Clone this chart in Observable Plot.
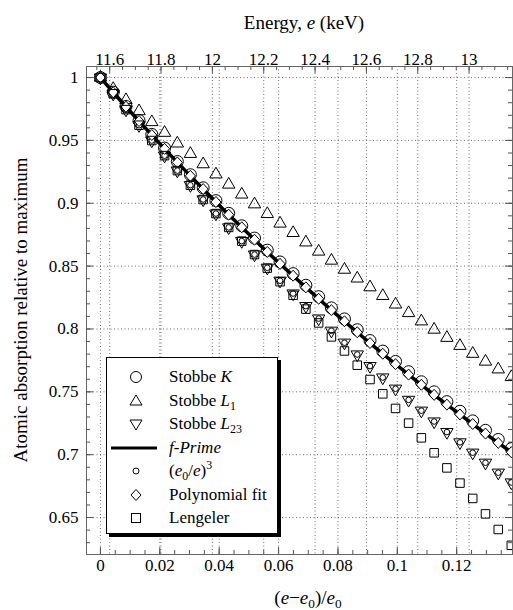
<!DOCTYPE html>
<html><head><meta charset="utf-8">
<script src="https://cdn.jsdelivr.net/npm/d3@7"></script>
<script src="https://cdn.jsdelivr.net/npm/@observablehq/plot@0.6"></script>
<style>
body{margin:0;background:#fff;}
#wrap{position:relative;width:513px;height:610px;font-family:"Liberation Serif","Times New Roman",serif;color:#000;overflow:hidden;background:#fff;}
#wrap svg.plot{position:absolute;left:0;top:0;}
.t{position:absolute;white-space:nowrap;line-height:1;}
#legend{position:absolute;left:106px;top:357px;width:172px;height:177px;border:1px solid #000;box-shadow:3px 3px 0 #000;background:#fff;box-sizing:border-box;}
.row{position:absolute;left:0;height:24px;display:flex;align-items:center;font-size:17px;}
.row svg{width:56px;height:24px;flex:none;}
.row span{margin-left:6px;}
sub,sup{font-size:70%;line-height:0;}
</style></head><body><div id="wrap"></div>
<script>
// ---- data ----
const e0 = 11.564; // edge energy (keV)
const xs = [0, 0.0043, 0.0086, 0.0130, 0.0173, 0.0216, 0.0259, 0.0303, 0.0346, 0.0389, 0.0432, 0.0476, 0.0519, 0.0562, 0.0605, 0.0649, 0.0692, 0.0735, 0.0778, 0.0822, 0.0865, 0.0908, 0.0951, 0.0994, 0.1038, 0.1081, 0.1124, 0.1167, 0.1211, 0.1254, 0.1297, 0.1340, 0.1384];
const stobbeK = [1, 0.9884, 0.9770, 0.9658, 0.9548, 0.9439, 0.9332, 0.9227, 0.9123, 0.9021, 0.8920, 0.8821, 0.8723, 0.8627, 0.8533, 0.8440, 0.8348, 0.8257, 0.8168, 0.8080, 0.7994, 0.7908, 0.7824, 0.7742, 0.7660, 0.7580, 0.7500, 0.7422, 0.7345, 0.7269, 0.7194, 0.7121, 0.7048];
const stobbeL1 = [1, 0.9910, 0.9821, 0.9733, 0.9646, 0.9561, 0.9476, 0.9393, 0.9311, 0.9230, 0.9149, 0.9070, 0.8992, 0.8915, 0.8839, 0.8764, 0.8689, 0.8616, 0.8544, 0.8472, 0.8402, 0.8332, 0.8263, 0.8195, 0.8127, 0.8061, 0.7995, 0.7930, 0.7866, 0.7803, 0.7741, 0.7679, 0.7618];
const stobbeL23 = [1, 0.9871, 0.9745, 0.9621, 0.9499, 0.9379, 0.9260, 0.9144, 0.9030, 0.8918, 0.8808, 0.8699, 0.8592, 0.8487, 0.8384, 0.8282, 0.8182, 0.8083, 0.7986, 0.7891, 0.7797, 0.7705, 0.7614, 0.7525, 0.7436, 0.7350, 0.7264, 0.7180, 0.7098, 0.7016, 0.6936, 0.6857, 0.6779];
const fPrime = [1, 0.9883, 0.9768, 0.9654, 0.9543, 0.9433, 0.9325, 0.9218, 0.9113, 0.9010, 0.8909, 0.8809, 0.8710, 0.8613, 0.8518, 0.8424, 0.8331, 0.8240, 0.8150, 0.8061, 0.7974, 0.7888, 0.7803, 0.7720, 0.7637, 0.7556, 0.7476, 0.7398, 0.7320, 0.7244, 0.7168, 0.7094, 0.7020];
const cube = [1, 0.9871, 0.9745, 0.9621, 0.9499, 0.9379, 0.9260, 0.9144, 0.9030, 0.8918, 0.8808, 0.8699, 0.8592, 0.8487, 0.8384, 0.8282, 0.8182, 0.8083, 0.7986, 0.7891, 0.7797, 0.7705, 0.7614, 0.7525, 0.7436, 0.7350, 0.7264, 0.7180, 0.7098, 0.7016, 0.6936, 0.6857, 0.6779];
const poly = [1, 0.9883, 0.9768, 0.9654, 0.9543, 0.9433, 0.9325, 0.9218, 0.9113, 0.9010, 0.8909, 0.8809, 0.8710, 0.8613, 0.8518, 0.8424, 0.8331, 0.8240, 0.8150, 0.8061, 0.7974, 0.7888, 0.7803, 0.7720, 0.7637, 0.7556, 0.7476, 0.7398, 0.7320, 0.7244, 0.7168, 0.7094, 0.7020];
const lengeler = [1, 0.9871, 0.9745, 0.9621, 0.9499, 0.9379, 0.9260, 0.9144, 0.9030, 0.8918, 0.8808, 0.8699, 0.8592, 0.8484, 0.8376, 0.8268, 0.8158, 0.8048, 0.7937, 0.7825, 0.7712, 0.7598, 0.7484, 0.7368, 0.7251, 0.7134, 0.7015, 0.6895, 0.6774, 0.6652, 0.6529, 0.6405, 0.6279];
const xTicks = [0, 0.02, 0.04, 0.06, 0.08, 0.1, 0.12];
const yTicks = [0.65, 0.7, 0.75, 0.8, 0.85, 0.9, 0.95, 1];
const energyTicks = [11.6, 11.8, 12, 12.2, 12.4, 12.6, 12.8, 13];
const legendLabels = ["Stobbe <i>K</i>", "Stobbe <i>L</i><sub>1</sub>", "Stobbe <i>L</i><sub>23</sub>", "<i>f-Prime</i>", "(<i>e</i><sub>0</sub>/<i>e</i>)<sup>3</sup>", "Polynomial fit", "Lengeler"];

// ---- layout ----
const W = 513, H = 610, mL = 86, mR = 1, mT = 66, mB = 56;
const fw = W - mL - mR, fh = H - mT - mB;
const rows = xs.map((x, i) => ({x, K: stobbeK[i], L1: stobbeL1[i], L23: stobbeL23[i], fp: fPrime[i], cube: cube[i], poly: poly[i], len: lengeler[i]}));
const eToX = e => e / e0 - 1;
const xMinor = d3.range(0, 0.1386, 0.005);
const topMinor = d3.range(11.55, 13.16, 0.05).map(eToX);
const yMinor = d3.range(0.63, 1.0001, 0.01);

const sq3 = Math.sqrt(3);
const triDown = {draw(ctx, size) { const y = -Math.sqrt(size / (sq3 * 3)); ctx.moveTo(0, -y * 2); ctx.lineTo(-sq3 * y, y); ctx.lineTo(sq3 * y, y); ctx.closePath(); }};
const triUp = {draw(ctx, size) { const y = -Math.sqrt(size / (sq3 * 3)); ctx.moveTo(0, y * 2); ctx.lineTo(-sq3 * y, -y); ctx.lineTo(sq3 * y, -y); ctx.closePath(); }};
const rhomb = {draw(ctx, size) { const s = Math.sqrt(size / 2); ctx.moveTo(0, -s * 1.1); ctx.lineTo(s, 0); ctx.lineTo(0, s * 1.1); ctx.lineTo(-s, 0); ctx.closePath(); }};

const grid = {stroke: "#333", strokeDasharray: "1,2.5", strokeWidth: 1, strokeOpacity: 0.7};
const tick = {stroke: "#555", strokeWidth: 1};

const chart = Plot.plot({
  width: W, height: H,
  marginLeft: mL, marginRight: mR, marginTop: mT, marginBottom: mB,
  x: {domain: [-0.0047, 0.1388], axis: null},
  y: {domain: [0.6206, 1.0088], axis: null},
  style: {fontFamily: "Liberation Serif, serif", fontSize: "17px", background: "transparent", color: "#000"},
  marks: [
    Plot.gridX(xTicks, grid),
    Plot.gridX(energyTicks.map(eToX), grid),
    Plot.gridY(yTicks, grid),
    Plot.frame({stroke: "#666", strokeWidth: 1}),
    Plot.ruleX(xTicks, {...tick, insetTop: fh - 7}),
    Plot.ruleX(xMinor, {...tick, insetTop: fh - 4}),
    Plot.ruleX(energyTicks.map(eToX), {...tick, insetBottom: fh - 7}),
    Plot.ruleX(topMinor, {...tick, insetBottom: fh - 4}),
    Plot.ruleY(yTicks, {...tick, insetRight: fw - 7}),
    Plot.ruleY(yMinor, {...tick, insetRight: fw - 4}),
    Plot.ruleY(yTicks, {...tick, insetLeft: fw - 7}),
    Plot.ruleY(yMinor, {...tick, insetLeft: fw - 4}),
    Plot.text(xTicks, {x: d => d, frameAnchor: "bottom", dy: 16, text: d => String(d), fontSize: 17}),
    Plot.text(energyTicks, {x: eToX, frameAnchor: "top", dy: -14, text: d => String(d), fontSize: 17}),
    Plot.text(yTicks, {y: d => d, frameAnchor: "left", dx: -8, textAnchor: "end", text: d => String(d), fontSize: 17}),
    Plot.dot(rows, {x: "x", y: "K", r: 6, symbol: "circle", stroke: "#000", fill: "none", strokeWidth: 1, clip: true}),
    Plot.dot(rows, {x: "x", y: "L1", r: 4.6, symbol: triUp, stroke: "#000", fill: "none", strokeWidth: 1, clip: true}),
    Plot.dot(rows, {x: "x", y: "L23", r: 4.6, symbol: triDown, stroke: "#000", fill: "none", strokeWidth: 1, clip: true}),
    Plot.line(rows, {x: "x", y: "fp", stroke: "#000", strokeWidth: 3.5, clip: true}),
    Plot.dot(rows, {x: "x", y: "cube", r: 2.8, symbol: "circle", stroke: "#000", fill: "#fff", strokeWidth: 1, clip: true}),
    Plot.dot(rows, {x: "x", y: "poly", r: 4, symbol: rhomb, stroke: "#000", fill: "#fff", strokeWidth: 1, clip: true}),
    Plot.dot(rows, {x: "x", y: "len", r: 4.8, symbol: "square", stroke: "#000", fill: "none", strokeWidth: 1, clip: true})
  ]
});
const wrap = document.getElementById("wrap");
wrap.appendChild(chart);

function addText(html, css) { const d = document.createElement("div"); d.className = "t"; d.innerHTML = html; Object.assign(d.style, css); wrap.appendChild(d); return d; }
addText("Energy, <i>e</i> (keV)", {left: "304px", top: "22px", fontSize: "19px", transform: "translate(-50%,-50%)"});
addText("(<i>e</i>\u2212<i>e</i><sub>0</sub>)/<i>e</i><sub>0</sub>", {left: "308px", top: "597px", fontSize: "19px", transform: "translate(-50%,-50%)"});
addText("Atomic absorption relative to maximum", {left: "20px", top: "310px", fontSize: "19px", transform: "translate(-50%,-50%) rotate(-90deg)"});

// legend
const lg = document.createElement("div"); lg.id = "legend"; wrap.appendChild(lg);
const symSvg = [
  '<circle cx="29" cy="12" r="5.5" fill="none" stroke="#000"/>',
  '<path d="M29,6 L35,16 L23,16 Z" fill="none" stroke="#000"/>',
  '<path d="M29,18 L35,8 L23,8 Z" fill="none" stroke="#000"/>',
  '<line x1="4" y1="12" x2="50" y2="12" stroke="#000" stroke-width="3"/>',
  '<circle cx="29" cy="12" r="3" fill="none" stroke="#000"/>',
  '<path d="M29,6.5 L34,12 L29,17.5 L24,12 Z" fill="none" stroke="#000"/>',
  '<rect x="24.5" y="7.5" width="9" height="9" fill="none" stroke="#000"/>'
];
legendLabels.forEach((lab, i) => {
  const r = document.createElement("div"); r.className = "row";
  r.style.top = (7 + i * 23.5) + "px";
  r.innerHTML = '<svg viewBox="0 0 56 24">' + symSvg[i] + '</svg><span>' + lab + '</span>';
  lg.appendChild(r);
});
</script></body></html>
